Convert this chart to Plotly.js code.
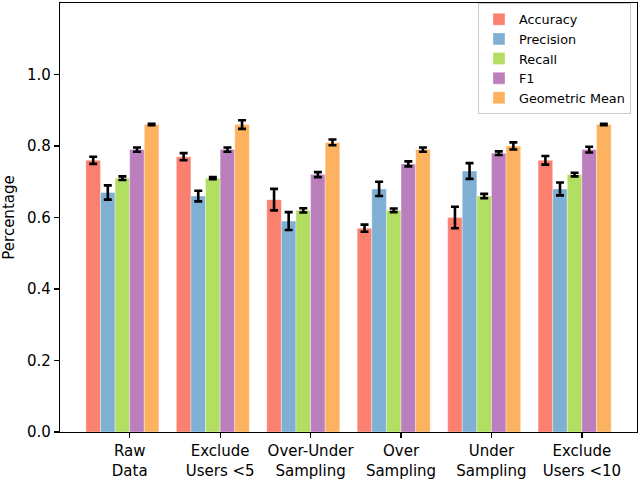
<!DOCTYPE html>
<html>
<head>
<meta charset="utf-8">
<script src="https://cdn.plot.ly/plotly-3.0.1.min.js"></script>
<style>html,body{margin:0;padding:0;background:#fff;}#chart{width:640px;height:479px;}</style>
</head>
<body>
<div id="chart"></div>
<script>
const categories = ['Raw<br>Data', 'Exclude<br>Users &lt;5', 'Over-Under<br>Sampling', 'Over<br>Sampling', 'Under<br>Sampling', 'Exclude<br>Users &lt;10'];
const seriesNames = ['Accuracy', 'Precision', 'Recall', 'F1', 'Geometric Mean'];
const accuracy = [0.76, 0.77, 0.65, 0.57, 0.60, 0.76];
const accuracyErr = [0.01, 0.01, 0.03, 0.01, 0.03, 0.012];
const precision = [0.67, 0.66, 0.59, 0.68, 0.73, 0.68];
const precisionErr = [0.02, 0.015, 0.025, 0.02, 0.022, 0.018];
const recall = [0.71, 0.71, 0.62, 0.62, 0.66, 0.72];
const recallErr = [0.005, 0.003, 0.006, 0.005, 0.006, 0.005];
const f1 = [0.79, 0.79, 0.72, 0.75, 0.78, 0.79];
const f1Err = [0.006, 0.006, 0.007, 0.007, 0.005, 0.008];
const gmean = [0.86, 0.86, 0.81, 0.79, 0.80, 0.86];
const gmeanErr = [0.002, 0.012, 0.008, 0.006, 0.01, 0.002];
const yTicks = [0, 0.2, 0.4, 0.6, 0.8, 1.0];
const yTickText = ['0.0', '0.2', '0.4', '0.6', '0.8', '1.0'];

const colors = ['#FC8070', '#7FB0D4', '#B2DE62', '#BC7FBE', '#FDB25F'];
const values = [accuracy, precision, recall, f1, gmean];
const errors = [accuracyErr, precisionErr, recallErr, f1Err, gmeanErr];
const w = 0.1615;
const idx = categories.map((_, i) => i);

const traces = values.map((vals, j) => ({
  type: 'bar',
  name: seriesNames[j],
  x: idx.map(i => i + (j - 2) * w),
  y: vals,
  width: w,
  marker: {color: colors[j], line: {color: 'rgba(255,255,255,0.6)', width: 0.6}},
  error_y: {type: 'data', array: errors[j], visible: true, color: '#000', thickness: 2.6, width: 4}
}));

const font = {family: 'DejaVu Sans, sans-serif', size: 15, color: '#000'};
const layout = {
  width: 640, height: 479,
  margin: {l: 60, r: 3, t: 3, b: 46.5, pad: 0},
  paper_bgcolor: '#fff', plot_bgcolor: '#fff',
  font: font,
  barmode: 'overlay',
  showlegend: true,
  legend: {
    x: 0.9896, y: 0.999, xanchor: 'right', yanchor: 'top',
    bgcolor: '#fff', bordercolor: '#cccccc', borderwidth: 1,
    font: {family: 'DejaVu Sans, sans-serif', size: 12.8, color: '#000'},
    tracegroupgap: 0, itemwidth: 30
  },
  xaxis: {
    range: [-0.69, 5.69],
    tickmode: 'array',
    tickvals: idx.map(i => i + w / 2),
    ticktext: categories,
    ticks: 'outside', ticklen: 5, tickwidth: 1.2, tickcolor: '#000',
    showline: true, linecolor: '#000', linewidth: 1.2, mirror: true,
    showgrid: false, zeroline: false,
    tickfont: font
  },
  yaxis: {
    range: [0, 1.2],
    tickmode: 'array',
    tickvals: yTicks,
    ticktext: yTickText,
    ticks: 'outside', ticklen: 5, tickwidth: 1.2, tickcolor: '#000',
    showline: true, linecolor: '#000', linewidth: 1.2, mirror: true,
    showgrid: false, zeroline: false,
    tickfont: font,
    title: {text: 'Percentage', font: font, standoff: 8}
  }
};

Plotly.newPlot('chart', traces, layout, {staticPlot: true, displayModeBar: false});
</script>
</body>
</html>
